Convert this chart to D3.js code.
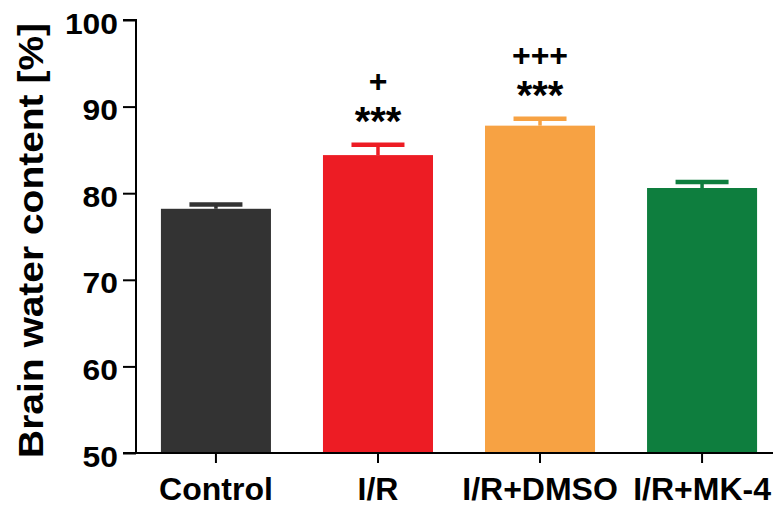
<!DOCTYPE html>
<html>
<head>
<meta charset="utf-8">
<script src="https://cdn.jsdelivr.net/npm/d3@7"></script>
<style>
    body { margin: 0; background: #fff; }
    svg text { font-family: "Liberation Sans", Arial, sans-serif; font-weight: bold; fill: #000; }
</style>
</head>
<body>
<div id="chart"></div>
<script>
// chart data
var categories = ['Control', 'I/R', 'I/R+DMSO', 'I/R+MK-4'],
    means = [78.2, 84.4, 87.8, 80.6],
    errors = [0.5, 1.2, 0.8, 0.7],
    stars = ['', '***', '***', ''],
    plus = ['', '+', '+++', ''],
    barColors = ['#333333', '#ed1c24', '#f7a243', '#0e7e3e'],
    yTicks = [50, 60, 70, 80, 90, 100];

const Width = 773,
    Height = 506,
    Left = 136,
    Top = 20,
    Bottom = 453,
    DigitWidth = 17.7;

var svg = d3.select('#chart')
    .append('svg')
    .attr('width', Width)
    .attr('height', Height);

var x = d3.scaleBand()
    .domain(categories)
    .range([Left - 1, Left - 1 + 4 * 162])
    .paddingInner(0.321)
    .paddingOuter(0.16);

var y = d3.scaleLinear()
    .domain([50, 100])
    .range([Bottom, Top]);

var mid = d => x(d) + x.bandwidth() / 2;

// bars
svg.selectAll('.bar')
    .data(categories)
    .enter().append('rect')
    .attr('class', 'bar')
    .attr('x', d => x(d))
    .attr('width', x.bandwidth())
    .attr('y', (d, i) => y(means[i]))
    .attr('height', (d, i) => Bottom - y(means[i]))
    .attr('fill', (d, i) => barColors[i]);

// error bars, upper half only
var capW = 53;
var err = svg.selectAll('.err')
    .data(categories)
    .enter().append('g')
    .attr('class', 'err');
err.append('line')
    .attr('x1', mid)
    .attr('x2', mid)
    .attr('y1', (d, i) => y(means[i]))
    .attr('y2', (d, i) => y(means[i] + errors[i]))
    .attr('stroke', (d, i) => barColors[i])
    .attr('stroke-width', 3.5);
err.append('line')
    .attr('x1', d => mid(d) - capW / 2)
    .attr('x2', d => mid(d) + capW / 2)
    .attr('y1', (d, i) => y(means[i] + errors[i]))
    .attr('y2', (d, i) => y(means[i] + errors[i]))
    .attr('stroke', (d, i) => barColors[i])
    .attr('stroke-width', 4.5);

// significance marks
svg.selectAll('.stars')
    .data(categories)
    .enter().append('text')
    .attr('class', 'stars')
    .attr('x', mid)
    .attr('y', (d, i) => y(means[i] + errors[i]) - 9.5)
    .attr('text-anchor', 'middle')
    .style('font-size', '40px')
    .text((d, i) => stars[i]);

svg.selectAll('.plus')
    .data(categories)
    .enter().append('text')
    .attr('class', 'plus')
    .attr('x', mid)
    .attr('y', (d, i) => y(means[i] + errors[i]) - 53)
    .attr('text-anchor', 'middle')
    .style('font-size', '32px')
    .text((d, i) => plus[i]);

// axes
var yAxis = svg.append('g')
    .attr('transform', `translate(${Left},0)`)
    .call(d3.axisLeft(y).tickValues(yTicks).tickSize(13).tickPadding(5));
yAxis.select('.domain').attr('d', `M-13,${Top}H0V${Bottom}`);

var xAxis = svg.append('g')
    .attr('transform', `translate(0,${Bottom})`)
    .call(d3.axisBottom(x).tickSize(10).tickPadding(14));
xAxis.select('.domain').attr('d', `M${Left - 13},0H${Width}`);

svg.selectAll('.domain, .tick line')
    .attr('stroke', '#000')
    .attr('stroke-width', 2);
yAxis.selectAll('.tick text')
    .style('font-size', '29px')
    .attr('dy', '0.45em')
    .attr('textLength', d => String(d).length * DigitWidth)
    .attr('lengthAdjust', 'spacingAndGlyphs');
xAxis.selectAll('.tick text').style('font-size', '32px');

svg.append('text')
    .attr('transform', `translate(43,${(23 + 458) / 2}) rotate(-90)`)
    .attr('text-anchor', 'middle')
    .attr('textLength', 435)
    .attr('lengthAdjust', 'spacingAndGlyphs')
    .style('font-size', '35px')
    .text('Brain water content [%]');
</script>
</body>
</html>
